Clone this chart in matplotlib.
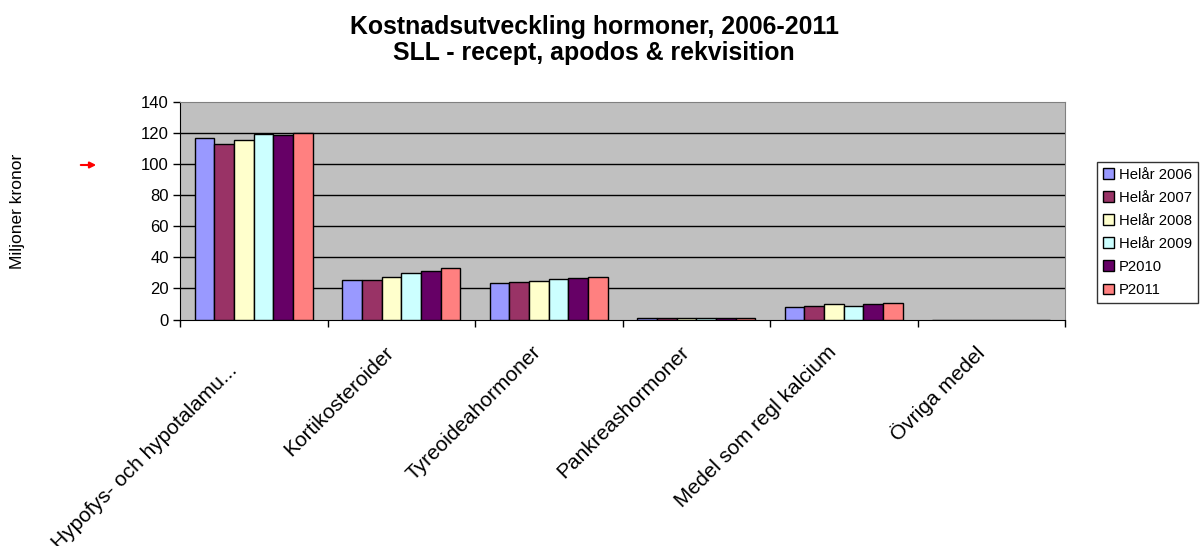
import matplotlib
matplotlib.use('agg')
import matplotlib.pyplot as plt
import numpy as np

plt.rcParams['font.family'] = ['Liberation Sans', 'DejaVu Sans']

categories = ['Hypofys- och hypotalamu...', 'Kortikosteroider', 'Tyreoideahormoner',
              'Pankreashormoner', 'Medel som regl kalcium', 'Övriga medel']
series = ['Helår 2006', 'Helår 2007', 'Helår 2008', 'Helår 2009', 'P2010', 'P2011']
values = [
    [116.8, 25.2, 23.4, 0.8, 8.2, 0],
    [112.7, 25.4, 24.1, 0.8, 9.0, 0],
    [115.7, 27.3, 24.9, 0.8, 9.7, 0],
    [119.6, 30.1, 25.8, 0.8, 8.8, 0],
    [118.7, 31.2, 26.5, 0.8, 9.9, 0],
    [120.0, 33.1, 27.3, 1.2, 10.3, 0],
]
colors = ['#9999FF', '#993366', '#FFFFCC', '#CCFFFF', '#660066', '#FF8080']

fig = plt.figure(figsize=(12.01, 5.46), dpi=100)
ax = fig.add_axes([180/1201, 1 - 319.5/546, 885/1201, 217.5/546])
ax.set_facecolor('#C0C0C0')

x = np.arange(len(categories))
w = 0.8 / len(series)
for i, s in enumerate(series):
    ax.bar(x - 0.4 + w * (i + 0.5), values[i], w, color=colors[i], edgecolor='black',
           linewidth=1, label=s, zorder=3)

ax.set_xlim(-0.5, len(categories) - 0.5)
ax.set_ylim(0, 140)
ax.set_yticks(range(0, 141, 20))
for yv in range(20, 140, 20):
    ax.axhline(yv, color='black', linewidth=1, zorder=1)
ax.tick_params(axis='y', labelsize=12, length=5, width=1, direction='out', pad=3)

ax.set_xticks(np.arange(len(categories) + 1) - 0.5)
ax.set_xticklabels([])
ax.tick_params(axis='x', length=5, width=1, direction='out', color='black')
# kategorinamn, snett under varje grupp (den första, avkortade, hamnar lite lägre)
for i, c in enumerate(categories):
    dx, dy = (-0.176, -26.4) if i == 0 else (-0.115, -14.8)
    ax.text(i + dx, dy, c, rotation=45, ha='right', va='top', rotation_mode='anchor',
            fontsize=15, clip_on=False)

for sp in ['top', 'right']:
    ax.spines[sp].set_color('#808080')
ax.spines['left'].set_color('black')
ax.spines['bottom'].set_color('black')

fig.text(594/1201, 1 - 40/546, 'Kostnadsutveckling hormoner, 2006-2011\nSLL - recept, apodos & rekvisition',
         ha='center', va='center', fontsize=17.9, fontweight='bold', linespacing=1.1)
fig.text(18/1201, 1 - 211/546, 'Miljoner kronor', rotation=90, ha='center', va='center', fontsize=12.5)
fig.add_artist(matplotlib.patches.FancyArrowPatch((78/1201, 1 - 165/546), (99/1201, 1 - 165/546),
               transform=fig.transFigure, arrowstyle='-|>', mutation_scale=9, color='red', lw=1.5))

leg = fig.legend(loc='center', bbox_to_anchor=(1147.5/1201, 1 - 232.5/546), fontsize=10.7,
                 frameon=True, fancybox=False, edgecolor='black', handlelength=0.75,
                 handleheight=0.75, handletextpad=0.3, labelspacing=0.61, borderpad=0.4)
leg.get_frame().set_linewidth(1)

fig.savefig('out.png', dpi=100)
